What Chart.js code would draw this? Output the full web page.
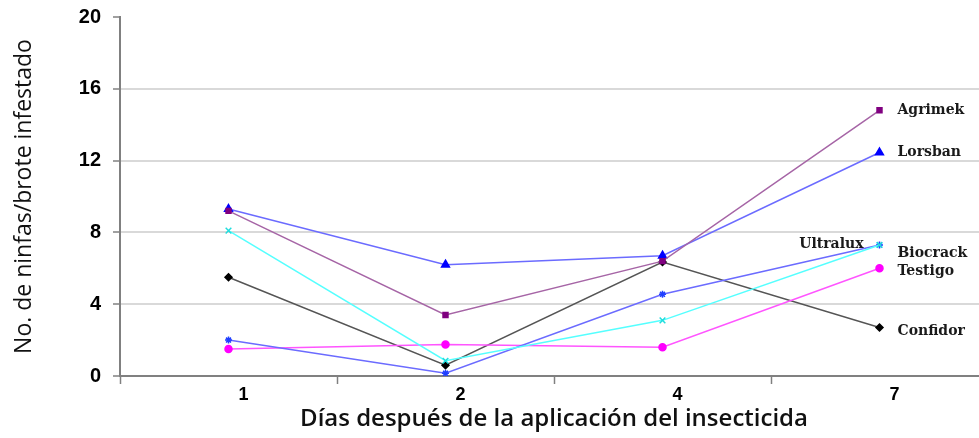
<!DOCTYPE html>
<html>
<head>
<meta charset="utf-8">
<script src="https://cdn.jsdelivr.net/npm/chart.js@4.4.0/dist/chart.umd.min.js"></script>
<style>
  html, body { margin: 0; padding: 0; background: #fff; overflow: hidden; }
  /* plot runs a little past the right edge, as in the original */
  #wrap { width: 994px; height: 438px; }
</style>
</head>
<body>
<div id="wrap"><canvas id="chart"></canvas></div>
<script>
// ---- data ----
const dias = ['1', '2', '4', '7'];
const agrimek  = [9.2, 3.4, 6.4, 14.8];
const lorsban  = [9.3, 6.2, 6.7, 12.45];
const ultralux = [8.1, 0.85, 3.1, 7.3];
const biocrack = [2.0, 0.15, 4.55, 7.3];
const testigo  = [1.5, 1.75, 1.6, 6.0];
const confidor = [5.5, 0.6, 6.35, 2.7];
const yTicks = [0, 4, 8, 12, 16, 20];

function serie(label, data, line, mark, style, radius, lab) {
    return {
        label: label, data: data,
        borderColor: line, backgroundColor: mark,
        pointBorderColor: mark, pointBackgroundColor: mark,
        pointStyle: style, pointRadius: radius, pointBorderWidth: 1.5,
        borderWidth: 1.5, tension: 0, fill: false,
        endLabel: lab
    };
}

// labels at end of each line (dx, dy, align)
const endLabels = {
    id: 'endLabels',
    afterDatasetsDraw(chart) {
        const ctx = chart.ctx;
        ctx.save();
        ctx.font = 'bold 14px "DejaVu Serif"';
        ctx.fillStyle = '#1a1a1a';
        ctx.textBaseline = 'middle';
        chart.data.datasets.forEach((ds, i) => {
            const pts = chart.getDatasetMeta(i).data;
            const p = pts[pts.length - 1];
            const o = ds.endLabel;
            ctx.textAlign = o.align;
            ctx.fillText(ds.label, p.x + o.dx, p.y + o.dy);
        });
        ctx.restore();
    }
};

const ctx = document.getElementById('chart').getContext('2d');
const chart = new Chart(ctx, {
    type: 'line',
    data: {
        labels: dias,
        datasets: [
            serie('Agrimek', agrimek, '#a665a6', '#800080', 'rect', 3.5, { dx: 18, dy: 0, align: 'left' }),
            serie('Lorsban', lorsban, '#6b6bff', '#0000ff', 'triangle', 4.5, { dx: 18, dy: 0, align: 'left' }),
            serie('Ultralux', ultralux, '#55ffff', '#22dddd', 'crossRot', 4, { dx: -16, dy: -1, align: 'right' }),
            serie('Biocrack', biocrack, '#6b6bff', '#1f3fff', 'star', 3.5, { dx: 18, dy: 8, align: 'left' }),
            serie('Testigo', testigo, '#ff55ff', '#ff00ff', 'circle', 3.5, { dx: 18, dy: 3, align: 'left' }),
            serie('Confidor', confidor, '#555555', '#000000', 'rectRot', 3.5, { dx: 18, dy: 4, align: 'left' })
        ]
    },
    options: {
        responsive: true,
        maintainAspectRatio: false,
        animation: false,
        layout: { padding: { top: 17, right: 0, left: 0, bottom: 0 } },
        plugins: {
            legend: { display: false },
            tooltip: { enabled: false }
        },
        scales: {
            x: {
                offset: true,
                afterFit: s => { s.height = 62; },
                grid: { offset: true, drawOnChartArea: false, tickLength: 8, tickColor: '#808080', tickWidth: 1.5 },
                border: { color: '#808080', width: 2 },
                ticks: { color: '#000', font: { family: 'Liberation Sans', size: 18, weight: 'bold' }, padding: 0, labelOffset: 15 },
                title: { display: true, text: 'Días después de la aplicación del insecticida', color: '#111',
                         font: { family: 'Open Sans', size: 24, weight: '600' }, padding: { top: 8 } }
            },
            y: {
                min: 0, max: 20,
                afterFit: s => { s.width = 120; s.paddingTop = 0; s.paddingBottom = 0; },
                afterBuildTicks: s => { s.ticks = yTicks.map(v => ({ value: v })); },
                grid: {
                    color: c => (c.tick.value === 0 || c.tick.value === 20) ? 'rgba(0,0,0,0)' : '#d9d9d9',
                    lineWidth: 2, tickLength: 7, tickColor: '#808080', tickWidth: 1.5
                },
                border: { color: '#808080', width: 2 },
                ticks: { color: '#000', font: { family: 'Liberation Sans', size: 20, weight: 'bold' }, padding: 12 },
                title: { display: true, text: 'No. de ninfas/brote infestado', color: '#111',
                         font: { family: 'Open Sans', size: 23 }, padding: { top: 11, bottom: 0 } }
            }
        }
    },
    plugins: [endLabels]
});
</script>
</body>
</html>
